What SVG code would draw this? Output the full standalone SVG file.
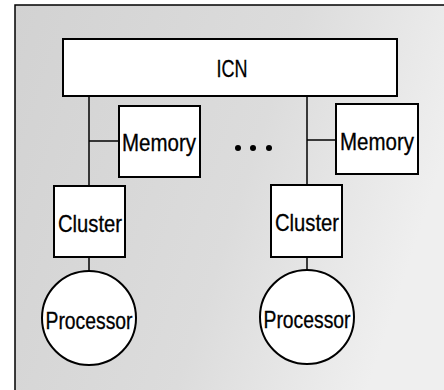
<svg xmlns="http://www.w3.org/2000/svg" width="444" height="390" viewBox="0 0 444 390">
<defs>
<linearGradient id="bg" x1="0" y1="0" x2="1" y2="0.3">
<stop offset="0" stop-color="#d2d2d2"/>
<stop offset="0.6" stop-color="#dcdcdc"/>
<stop offset="1" stop-color="#efefef"/>
</linearGradient>
<style>
.box{fill:#fff;stroke:#000;stroke-width:2}
.ln{stroke:#000;stroke-width:1.5;fill:none}
.t{font-family:"Liberation Sans",Arial,sans-serif;font-size:24px;fill:#000;text-anchor:middle;stroke:#000;stroke-width:0.3}
</style>
</defs>
<rect x="0" y="0" width="444" height="390" fill="#fff"/>
<rect x="15" y="5" width="440" height="400" fill="url(#bg)" stroke="#000" stroke-width="1.5"/>
<g id="connectors">
<line class="ln" x1="89" y1="96" x2="89" y2="273"/>
<line class="ln" x1="89" y1="141" x2="119" y2="141"/>
<line class="ln" x1="307" y1="96" x2="307" y2="272"/>
<line class="ln" x1="307" y1="140" x2="336" y2="140"/>
</g>
<g id="icn">
<rect class="box" x="63" y="39" width="334" height="57"/>
<text class="t" x="232" y="77" textLength="31" lengthAdjust="spacingAndGlyphs">ICN</text>
</g>
<g id="memory1">
<rect class="box" x="119" y="106" width="81" height="71"/>
<text class="t" x="159" y="151" textLength="74" lengthAdjust="spacingAndGlyphs">Memory</text>
</g>
<g id="memory2">
<rect class="box" x="336" y="104" width="82" height="70"/>
<text class="t" x="377" y="150" textLength="74" lengthAdjust="spacingAndGlyphs">Memory</text>
</g>
<g id="dots">
<circle cx="238" cy="148" r="3"/>
<circle cx="253" cy="148" r="3"/>
<circle cx="269" cy="148" r="3"/>
</g>
<g id="cluster1">
<rect class="box" x="54" y="186" width="71" height="71"/>
<text class="t" x="90" y="232" textLength="64" lengthAdjust="spacingAndGlyphs">Cluster</text>
</g>
<g id="cluster2">
<rect class="box" x="271" y="185" width="71" height="72"/>
<text class="t" x="307" y="231" textLength="64" lengthAdjust="spacingAndGlyphs">Cluster</text>
</g>
<g id="processor1">
<circle class="box" cx="89" cy="318" r="47"/>
<text class="t" x="89" y="329" textLength="87" lengthAdjust="spacingAndGlyphs">Processor</text>
</g>
<g id="processor2">
<circle class="box" cx="307" cy="317" r="47"/>
<text class="t" x="307" y="328" textLength="87" lengthAdjust="spacingAndGlyphs">Processor</text>
</g>
</svg>
